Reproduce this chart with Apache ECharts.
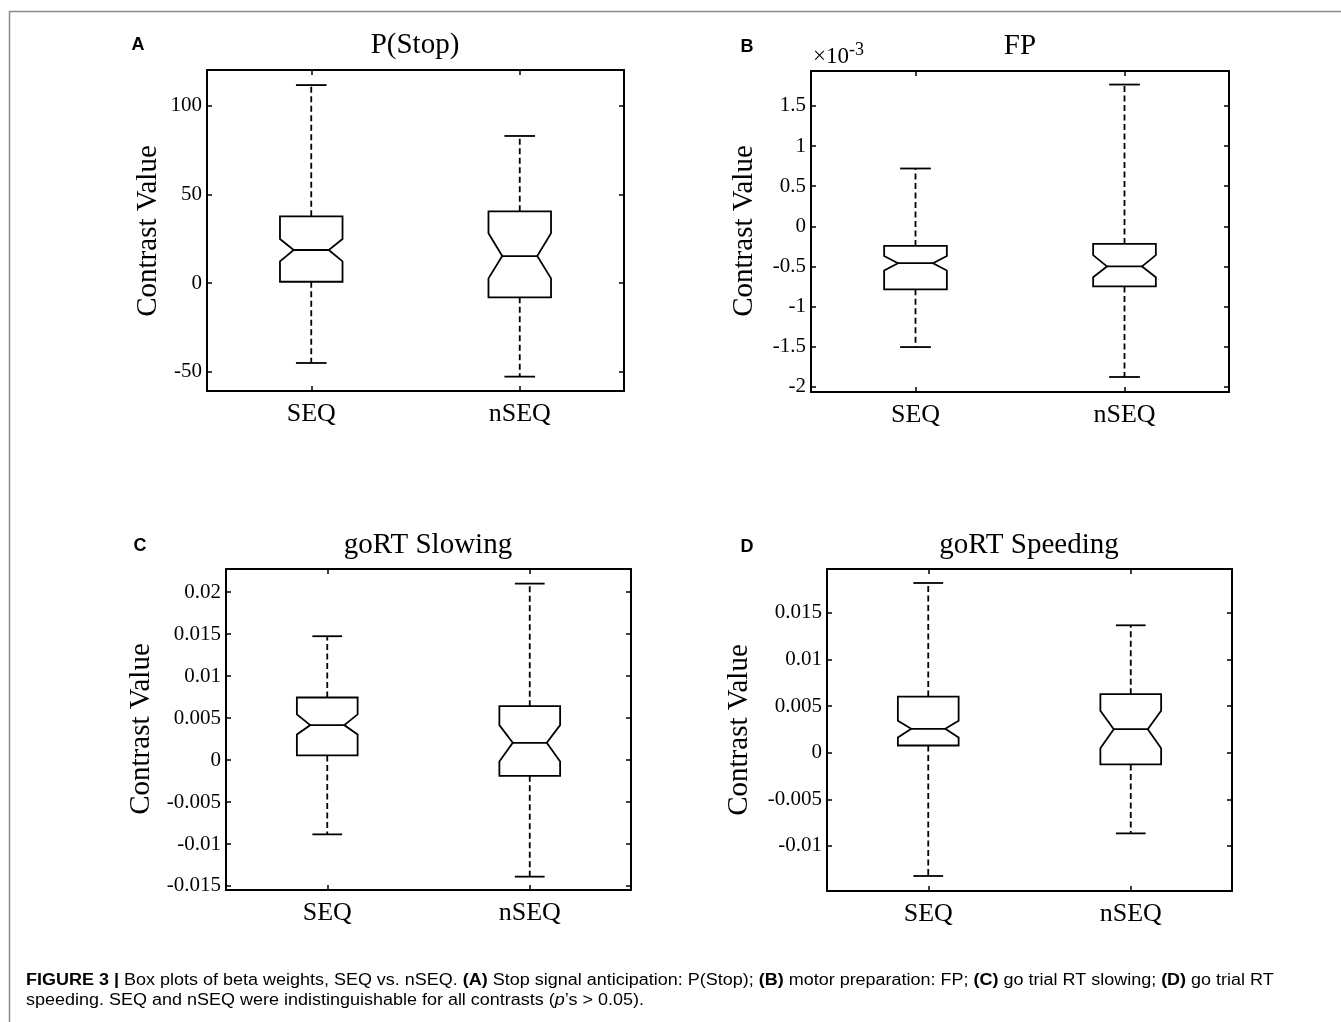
<!DOCTYPE html>
<html>
<head>
<meta charset="utf-8">
<script src="https://cdn.jsdelivr.net/npm/echarts@6/dist/echarts.min.js"></script>
<style>
html,body{margin:0;padding:0;background:#fff;}
#chart{width:1341px;height:1022px;}
</style>
</head>
<body>
<div id="chart"></div>
<script>
// ---------- data ----------
const categories = ['SEQ', 'nSEQ'];
// each box: [lower whisker, Q1, notch low, median, notch high, Q3, upper whisker]
const pStopSEQ  = [-45.1, 0.7, 12.2, 18.6, 24.8, 37.6, 111.6];
const pStopNSEQ = [-52.8, -8.1, 2.6, 15.2, 28.0, 40.4, 82.9];
// FP values in units of 10^-3
const fpSEQ  = [-1.505, -0.785, -0.55, -0.46, -0.37, -0.245, 0.72];
const fpNSEQ = [-1.878, -0.75, -0.635, -0.50, -0.36, -0.22, 1.766];
const slowSEQ  = [-0.00885, 0.00056, 0.00306, 0.00417, 0.00544, 0.00746, 0.01476];
const slowNSEQ = [-0.01389, -0.00187, -0.00016, 0.00206, 0.00417, 0.00643, 0.02103];
const speedSEQ  = [-0.01322, 0.00078, 0.00164, 0.00257, 0.00343, 0.00603, 0.01821];
const speedNSEQ = [-0.00865, -0.00125, 0.00049, 0.00253, 0.0045, 0.00628, 0.01367];

const panelTitles = ['P(Stop)', 'FP', 'goRT Slowing', 'goRT Speeding'];
const panelLetters = ['A', 'B', 'C', 'D'];
const yAxisTitle = 'Contrast Value';
const yMins = [-60.9, -2.065, -0.01548, -0.01483];
const yMaxs = [120.1, 1.935, 0.02277, 0.01971];
const yIntervals = [50, 0.5, 0.005, 0.005];
const fpExponentBase = '×10';
const fpExponent = '-3';
const captionLine1 = '{b|FIGURE 3 |}{n| Box plots of beta weights, SEQ vs. nSEQ. }{b|(A)}{n| Stop signal anticipation: P(Stop); }{b|(B)}{n| motor preparation: FP; }{b|(C)}{n| go trial RT slowing; }{b|(D)}{n| go trial RT}';
const captionLine2 = '{n|speeding. SEQ and nSEQ were indistinguishable for all contrasts (}{i|p}{n|’s > 0.05).}';

// ---------- layout ----------
const grids = [
  {left: 207, top: 70, width: 417, height: 321},
  {left: 811, top: 71, width: 418, height: 321},
  {left: 226, top: 569, width: 405, height: 321},
  {left: 827, top: 569, width: 405, height: 322}
];
const panelData = [
  [pStopSEQ, pStopNSEQ],
  [fpSEQ, fpNSEQ],
  [slowSEQ, slowNSEQ],
  [speedSEQ, speedNSEQ]
];

const SERIF = 'Liberation Serif';
const SANS = 'Liberation Sans';

function makeFormatter(step) {
  return function (v) {
    const k = v / step;
    if (Math.abs(k - Math.round(k)) > 1e-6) return '';
    const r = Math.round(k) * step;
    return String(parseFloat(r.toFixed(6)));
  };
}

function renderNotchBox(params, api) {
  const cat = api.value(0);
  const vals = [1, 2, 3, 4, 5, 6, 7].map(i => api.value(i));
  const band = api.size([1, 0])[0];
  const bw = band * 0.15, nw = band * 0.084, cw = band * 0.0735;
  const x = api.coord([cat, vals[3]])[0];
  const y = vals.map(v => api.coord([cat, v])[1]);
  const solid = {stroke: '#000', lineWidth: 1.8, fill: null};
  const dashed = {stroke: '#000', lineWidth: 1.8, lineDash: [6, 3.5]};
  return {
    type: 'group',
    children: [
      {type: 'line', shape: {x1: x, y1: y[5], x2: x, y2: y[6]}, style: dashed},
      {type: 'line', shape: {x1: x, y1: y[1], x2: x, y2: y[0]}, style: dashed},
      {type: 'line', shape: {x1: x - cw, y1: y[6], x2: x + cw, y2: y[6]}, style: solid},
      {type: 'line', shape: {x1: x - cw, y1: y[0], x2: x + cw, y2: y[0]}, style: solid},
      {type: 'polygon', shape: {points: [
        [x - bw, y[5]], [x + bw, y[5]], [x + bw, y[4]], [x + nw, y[3]], [x + bw, y[2]],
        [x + bw, y[1]], [x - bw, y[1]], [x - bw, y[2]], [x - nw, y[3]], [x - bw, y[4]]
      ]}, style: {stroke: '#000', lineWidth: 1.8, fill: '#fff'}},
      {type: 'line', shape: {x1: x - nw, y1: y[3], x2: x + nw, y2: y[3]}, style: solid}
    ]
  };
}

const xAxes = [], yAxes = [], series = [];
grids.forEach((g, i) => {
  const axisLine = {show: true, onZero: false, lineStyle: {color: '#000', width: 2}};
  const tick = {show: true, inside: true, length: 5, lineStyle: {color: '#000', width: 1.5}};
  xAxes.push({
    type: 'category', gridIndex: i, position: 'bottom', data: categories,
    axisLine: axisLine, axisTick: Object.assign({alignWithLabel: true}, tick),
    axisLabel: {fontFamily: SERIF, fontSize: 26, color: '#000', margin: 10},
    splitLine: {show: false}
  });
  xAxes.push({
    type: 'category', gridIndex: i, position: 'top', data: categories,
    axisLine: axisLine, axisTick: Object.assign({alignWithLabel: true}, tick),
    axisLabel: {show: false}, splitLine: {show: false}
  });
  const yBase = {
    type: 'value', gridIndex: i, min: yMins[i], max: yMaxs[i],
    minInterval: yIntervals[i], maxInterval: yIntervals[i],
    axisLine: axisLine, axisTick: tick, splitLine: {show: false}
  };
  yAxes.push(Object.assign({}, yBase, {
    position: 'left',
    axisLabel: {fontFamily: SERIF, fontSize: 21, color: '#000', margin: 5,
                formatter: makeFormatter(yIntervals[i])}
  }));
  yAxes.push(Object.assign({}, yBase, {position: 'right', axisLabel: {show: false}}));
  series.push({
    type: 'custom', xAxisIndex: 2 * i, yAxisIndex: 2 * i,
    renderItem: renderNotchBox, silent: true,
    encode: {x: 0, y: [1, 2, 3, 4, 5, 6, 7]},
    data: panelData[i].map((d, k) => [k].concat(d))
  });
});

// ---------- text elements ----------
const graphics = [];
// figure frame (top & left lines)
graphics.push({type: 'polyline', shape: {points: [[9.5, 1022], [9.5, 11.5], [1341, 11.5]]},
  style: {stroke: '#8a8a8a', lineWidth: 1.5, fill: null}, silent: true});
const titlePos = [[415, 45], [1020, 46], [428, 545], [1029, 545]];
const letterPos = [[138, 45], [747, 47], [140, 546], [747, 547]];
const ylabelPos = [[148, 231], [744, 231], [141, 729], [739, 730]];
for (let i = 0; i < 4; i++) {
  graphics.push({type: 'text', x: titlePos[i][0], y: titlePos[i][1], silent: true,
    style: {text: panelTitles[i], font: '29px "' + SERIF + '"', fill: '#000', align: 'center', verticalAlign: 'middle'}});
  graphics.push({type: 'text', x: letterPos[i][0], y: letterPos[i][1], silent: true,
    style: {text: panelLetters[i], font: 'bold 18px "' + SANS + '"', fill: '#000', align: 'center', verticalAlign: 'middle'}});
  graphics.push({type: 'text', x: ylabelPos[i][0], y: ylabelPos[i][1], rotation: Math.PI / 2, silent: true,
    style: {text: yAxisTitle, font: '29px "' + SERIF + '"', fill: '#000', align: 'center', verticalAlign: 'middle'}});
}
graphics.push({type: 'text', x: 813, y: 57, silent: true,
  style: {text: fpExponentBase, font: '23px "' + SERIF + '"', fill: '#000', align: 'left', verticalAlign: 'middle'}});
graphics.push({type: 'text', x: 849, y: 50, silent: true,
  style: {text: fpExponent, font: '18px "' + SERIF + '"', fill: '#000', align: 'left', verticalAlign: 'middle'}});

// caption
const capRich = {
  n: {fontFamily: SANS, fontSize: 16, color: '#3a3a3a'},
  b: {fontFamily: SANS, fontSize: 16, fontWeight: 'bold', color: '#1a1a1a'},
  i: {fontFamily: SANS, fontSize: 16, fontStyle: 'italic', color: '#3a3a3a'}
};
graphics.push({type: 'text', x: 26, y: 981, scaleX: 1.124, silent: true,
  style: {text: captionLine1, rich: capRich, align: 'left', verticalAlign: 'middle'}});
graphics.push({type: 'text', x: 26, y: 1000.5, scaleX: 1.124, silent: true,
  style: {text: captionLine2, rich: capRich, align: 'left', verticalAlign: 'middle'}});

const chart = echarts.init(document.getElementById('chart'), null, {renderer: 'canvas'});
chart.setOption({
  backgroundColor: '#fff',
  animation: false,
  grid: grids.map(g => Object.assign({containLabel: false}, g)),
  xAxis: xAxes,
  yAxis: yAxes,
  series: series,
  graphic: graphics
});
</script>
</body>
</html>
